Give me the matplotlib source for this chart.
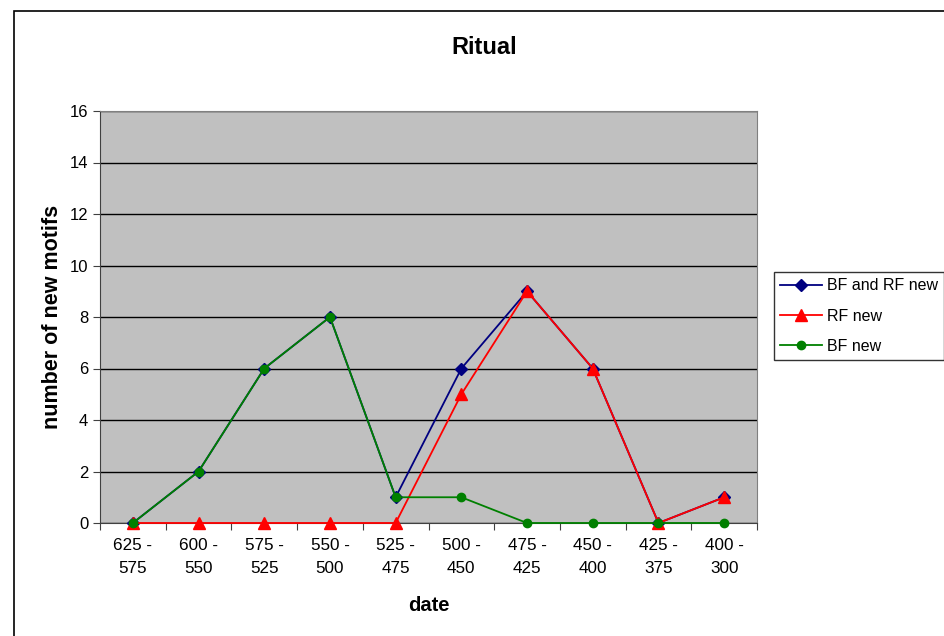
import numpy as np
import matplotlib.pyplot as plt
from matplotlib.patches import Rectangle

plt.rcParams['font.family'] = ['Liberation Sans', 'DejaVu Sans']

categories = ["625 -\n575", "600 -\n550", "575 -\n525", "550 -\n500", "525 -\n475",
              "500 -\n450", "475 -\n425", "450 -\n400", "425 -\n375", "400 -\n300"]
bf_and_rf = [0, 2, 6, 8, 1, 6, 9, 6, 0, 1]
rf_new = [0, 0, 0, 0, 0, 5, 9, 6, 0, 1]
bf_new = [0, 2, 6, 8, 1, 1, 0, 0, 0, 0]

W, H = 944, 636
fig = plt.figure(figsize=(W / 100, H / 100), dpi=100)

# outer chart border (cut off at right and bottom)
fig.patches.append(Rectangle((14 / W, -0.1), 1.0, (H - 11) / H + 0.1,
                             transform=fig.transFigure, fill=False,
                             edgecolor='black', linewidth=1.2))

ax = fig.add_axes([100 / W, 1 - 523 / H, 657 / W, 412 / H])
ax.set_facecolor('#C0C0C0')

x = np.arange(len(categories))
ax.plot(x, bf_and_rf, color='#000080', marker='D', markersize=6, linewidth=1.3,
        label='BF and RF new', zorder=3, clip_on=False)
ax.plot(x, rf_new, color='#FF0000', marker='^', markersize=8, linewidth=1.3,
        label='RF new', zorder=4, clip_on=False)
ax.plot(x, bf_new, color='#008000', marker='o', markersize=6, linewidth=1.3,
        label='BF new', zorder=5, clip_on=False)

ax.set_xlim(-0.5, len(categories) - 0.5)
ax.set_ylim(0, 16)
ax.set_yticks(np.arange(0, 17, 2))
ax.yaxis.grid(True, color='black', linewidth=1)
ax.set_axisbelow(True)

ax.set_xticks(np.arange(-0.5, len(categories), 1))
ax.set_xticklabels([])
ax.set_xticks(x, minor=True)
ax.set_xticklabels(categories, minor=True, fontsize=12.3, linespacing=1.65)
ax.tick_params(axis='x', which='minor', length=0, pad=11)
ax.tick_params(axis='x', which='major', length=5, direction='out', color='#404040')
ax.tick_params(axis='y', length=5, direction='out', labelsize=12, color='#404040')

for side in ['top', 'right']:
    ax.spines[side].set_color('#808080')
for side in ['left', 'bottom']:
    ax.spines[side].set_color('#404040')

ax.set_xlabel('date', fontsize=14.5, fontweight='bold', labelpad=14)
ax.set_ylabel('number of new motifs', fontsize=15.5, fontweight='bold', labelpad=5)

fig.text(484 / W, 1 - 47 / H, 'Ritual', fontsize=17, fontweight='bold',
         ha='center', va='center')

leg = fig.legend(loc='upper left', bbox_to_anchor=(774 / W, 1 - 272 / H),
                 fontsize=11.5, frameon=True, fancybox=False, edgecolor='black',
                 borderaxespad=0, handlelength=2.6, labelspacing=0.95,
                 borderpad=0.4, handletextpad=0.3)
leg.get_frame().set_linewidth(1)

fig.savefig('out.png', dpi=100)
